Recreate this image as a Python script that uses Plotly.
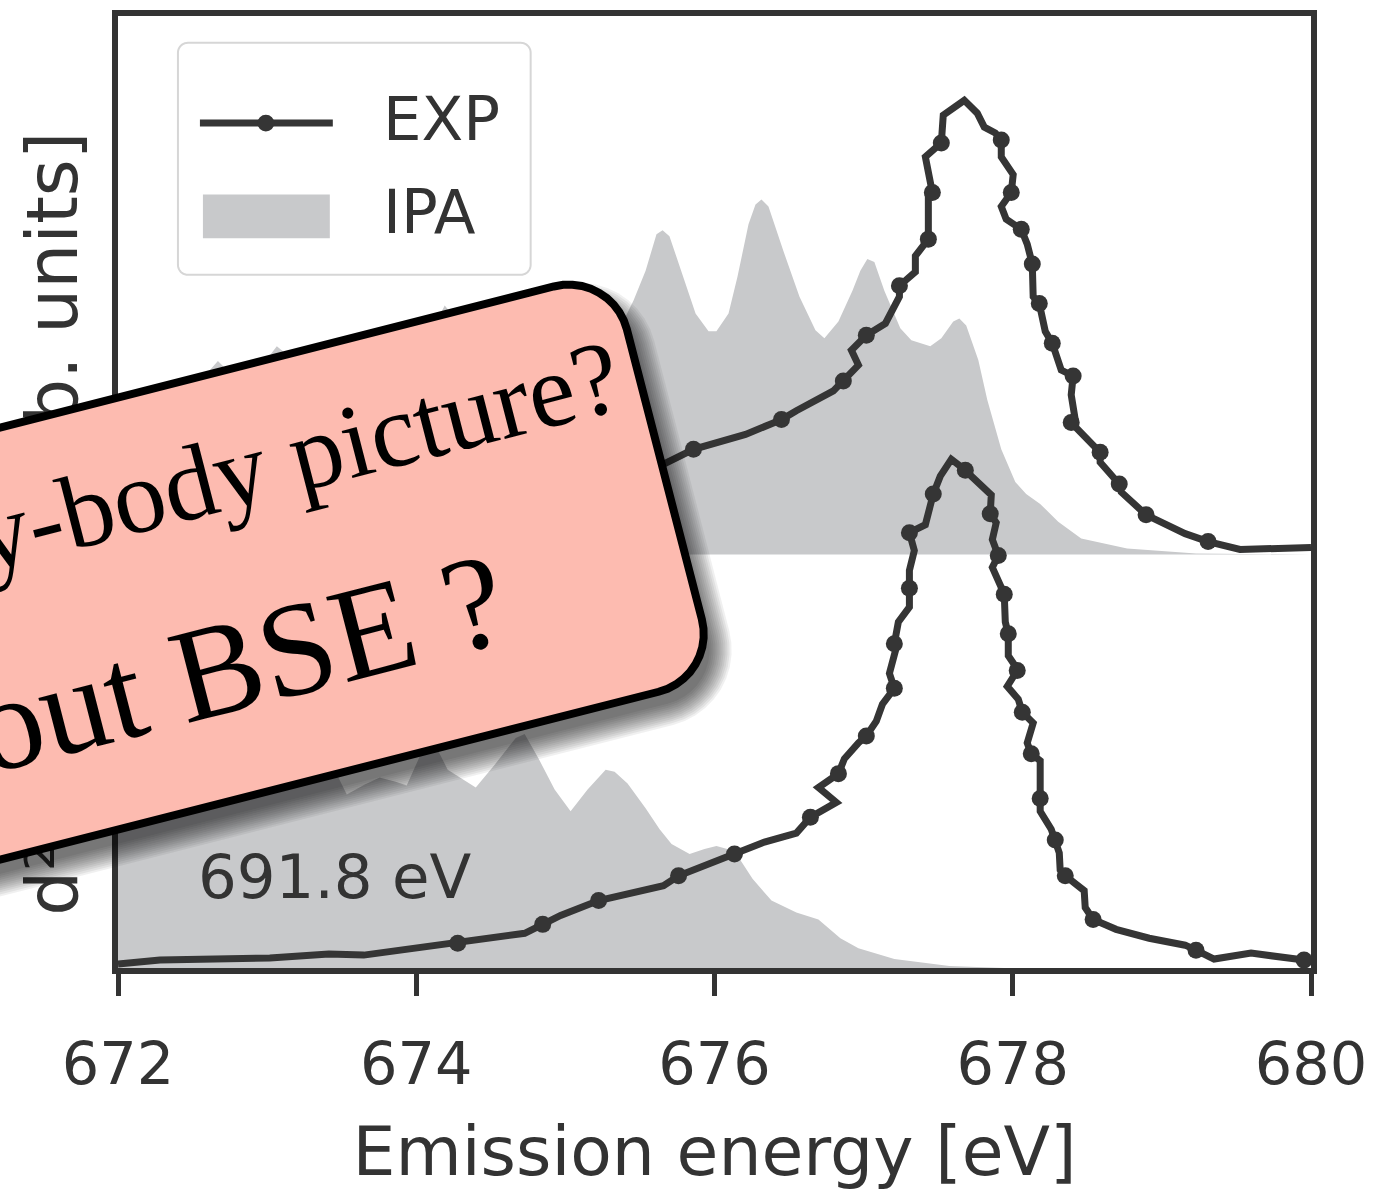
import math
import plotly.graph_objects as go

# ---------------------------------------------------------------- data ----
X_TICKS = [672, 674, 676, 678, 680]
X_RANGE = [672.0, 680.0]
Y_RANGE = [0.0, 1.92]

SERIES_NAMES = ["EXP", "IPA"]
EXCITATION_LABEL = "691.8 eV"
X_TITLE = "Emission energy [eV]"
Y_TITLE = "d²σ/dΩ dω [arb. units]"
CALLOUT_LINES = ["Many-body picture?", "without BSE ?"]

# vertical offset of the upper pair of spectra
TOP_OFFSET = 0.834

# upper pair: experiment (relative to TOP_OFFSET)
exp_top_energy = [
    672.000, 672.549, 673.219, 673.889, 674.358, 674.961, 675.363, 675.645,
    675.859, 676.208, 676.449, 676.549, 676.797, 676.864, 676.965, 676.918,
    677.018, 677.146, 677.240, 677.240, 677.347, 677.347, 677.434, 677.434,
    677.461, 677.414, 677.487, 677.521, 677.534, 677.675, 677.762, 677.809,
    677.883, 677.923, 677.923, 678.003, 677.990, 677.923, 677.956, 678.057,
    678.097, 678.131, 678.137, 678.178, 678.218, 678.265, 678.325, 678.405,
    678.392, 678.419, 678.392, 678.479, 678.586, 678.586, 678.714, 678.727,
    678.894, 679.156, 679.310, 679.524, 680.000,
]
exp_top_intensity = [
    0.026, 0.030, 0.046, 0.074, 0.100, 0.132, 0.160, 0.180,
    0.212, 0.242, 0.272, 0.290, 0.330, 0.350, 0.382, 0.412,
    0.442, 0.466, 0.520, 0.542, 0.570, 0.602, 0.636, 0.726,
    0.730, 0.802, 0.822, 0.830, 0.886, 0.916, 0.890, 0.862,
    0.850, 0.836, 0.802, 0.766, 0.730, 0.702, 0.676, 0.656,
    0.626, 0.586, 0.520, 0.506, 0.450, 0.426, 0.372, 0.360,
    0.322, 0.272, 0.266, 0.240, 0.206, 0.186, 0.142, 0.126,
    0.080, 0.042, 0.026, 0.010, 0.014,
]
exp_top_marked = [1, 3, 5, 8, 10, 13, 16, 19, 22, 24, 27, 33, 36, 39, 41,
                  43, 45, 47, 50, 52, 54, 56, 58]

# upper pair: independent-particle calculation (relative to TOP_OFFSET)
ipa_top_energy = [
    672.000, 672.214, 672.482, 672.670, 672.851, 673.065, 673.286, 673.487,
    673.755, 673.956, 674.191, 674.425, 674.693, 674.961, 675.229, 675.397,
    675.457, 675.538, 675.611, 675.652, 675.698, 675.786, 675.873, 675.960,
    676.013, 676.094, 676.154, 676.228, 676.275, 676.315, 676.362, 676.462,
    676.570, 676.677, 676.737, 676.831, 676.925, 676.978, 677.025, 677.072,
    677.139, 677.246, 677.320, 677.447, 677.521, 677.601, 677.642, 677.688,
    677.769, 677.829, 677.923, 678.017, 678.090, 678.184, 678.305, 678.459,
    678.767, 679.229, 680.000,
]
ipa_top_intensity = [
    0.166, 0.226, 0.326, 0.390, 0.336, 0.420, 0.366, 0.316,
    0.386, 0.366, 0.502, 0.416, 0.446, 0.386, 0.436, 0.476,
    0.512, 0.572, 0.646, 0.654, 0.642, 0.562, 0.486, 0.450,
    0.450, 0.486, 0.560, 0.666, 0.706, 0.716, 0.702, 0.612,
    0.520, 0.452, 0.436, 0.470, 0.532, 0.572, 0.596, 0.590,
    0.532, 0.456, 0.432, 0.420, 0.436, 0.470, 0.476, 0.462,
    0.392, 0.312, 0.212, 0.146, 0.122, 0.102, 0.066, 0.032,
    0.012, 0.002, 0.000,
]

# lower pair: experiment
exp_bottom_energy = [
    672.000, 672.281, 673.018, 673.414, 673.648, 674.278, 674.727, 674.848,
    674.968, 675.223, 675.658, 675.759, 676.134, 676.335, 676.549, 676.643,
    676.817, 676.697, 676.831, 676.871, 676.965, 677.018, 677.085, 677.126,
    677.206, 677.173, 677.219, 677.206, 677.233, 677.307, 677.307, 677.307,
    677.340, 677.307, 677.414, 677.467, 677.514, 677.588, 677.648, 677.682,
    677.722, 677.856, 677.849, 677.889, 677.863, 677.903, 677.863, 677.943,
    677.950, 677.970, 677.970, 678.010, 678.030, 677.963, 678.037, 678.064,
    678.137, 678.097, 678.124, 678.184, 678.184, 678.184, 678.258, 678.285,
    678.312, 678.318, 678.352, 678.479, 678.486, 678.539, 678.693, 678.915,
    679.156, 679.229, 679.350, 679.598, 679.953,
]
exp_bottom_intensity = [
    0.008, 0.016, 0.020, 0.028, 0.026, 0.050, 0.070, 0.088,
    0.106, 0.136, 0.166, 0.186, 0.230, 0.254, 0.272, 0.304,
    0.334, 0.364, 0.392, 0.422, 0.454, 0.468, 0.498, 0.532,
    0.564, 0.594, 0.646, 0.654, 0.698, 0.728, 0.766, 0.802,
    0.842, 0.878, 0.894, 0.956, 0.992, 1.026, 1.012, 1.004,
    0.992, 0.954, 0.916, 0.898, 0.864, 0.832, 0.808, 0.754,
    0.698, 0.674, 0.630, 0.612, 0.600, 0.568, 0.542, 0.516,
    0.494, 0.454, 0.432, 0.418, 0.342, 0.316, 0.280, 0.258,
    0.232, 0.198, 0.186, 0.156, 0.122, 0.098, 0.078, 0.060,
    0.046, 0.036, 0.018, 0.030, 0.016,
]
exp_bottom_marked = [5, 7, 9, 11, 12, 15, 18, 21, 24, 27, 30, 33, 35, 39,
                     42, 45, 47, 49, 52, 55, 58, 60, 63, 66, 69, 73, 76]

# lower pair: independent-particle calculation
ipa_bottom_energy = [
    672.000, 672.214, 672.482, 672.750, 673.018, 673.253, 673.420, 673.534,
    673.655, 673.755, 673.856, 673.936, 674.037, 674.110, 674.211, 674.399,
    674.526, 674.667, 674.727, 674.821, 674.928, 675.035, 675.149, 675.270,
    675.330, 675.417, 675.538, 675.632, 675.712, 675.833, 675.933, 676.013,
    676.134, 676.255, 676.382, 676.549, 676.697, 676.844, 676.965, 677.206,
    677.575, 677.943, 680.000,
]
ipa_bottom_intensity = [
    0.360, 0.460, 0.540, 0.500, 0.560, 0.480, 0.420, 0.350,
    0.370, 0.384, 0.376, 0.368, 0.436, 0.460, 0.400, 0.364,
    0.410, 0.464, 0.472, 0.422, 0.360, 0.316, 0.360, 0.400,
    0.396, 0.372, 0.322, 0.280, 0.250, 0.230, 0.240, 0.246,
    0.236, 0.180, 0.136, 0.112, 0.098, 0.060, 0.040, 0.018,
    0.004, 0.000, 0.000,
]

# ---------------------------------------------------------------- style ---
W, H = 1377, 1191
M_L, M_R, M_T, M_B = 118, 65, 10, 221
PLOT_W = W - M_L - M_R
PLOT_H = H - M_T - M_B

INK = "#333333"
LINE_COLOR = "#353535"
FILL_COLOR = "#c8c9cb"
CALLOUT_FILL = "#fdbbb0"
SANS = "DejaVu Sans"
SERIF = "Liberation Serif"
MARKER_SIZE = 17


def to_paper(px, py):
    """Pixel position on the page -> paper coordinates."""
    return (px - M_L) / PLOT_W, (H - M_B - py) / PLOT_H


def rounded_rect_path(cx, cy, hw, hh, angle_deg, r, n=10):
    """Closed SVG path (paper units) of a rotated rounded rectangle given in pixels."""
    th = math.radians(angle_deg)
    ux, uy = math.cos(th), -math.sin(th)
    vx, vy = math.sin(th), math.cos(th)
    r = max(0.0, min(r, hw, hh))
    arcs = [
        (hw - r, -hh + r, -90.0),
        (hw - r, hh - r, 0.0),
        (-hw + r, hh - r, 90.0),
        (-hw + r, -hh + r, 180.0),
    ]
    pts = []
    for ax_, ay_, a0 in arcs:
        for k in range(n + 1):
            phi = math.radians(a0 + 90.0 * k / n)
            a = ax_ + r * math.cos(phi)
            b = ay_ + r * math.sin(phi)
            pts.append((cx + a * ux + b * vx, cy + a * uy + b * vy))
    coords = [to_paper(px, py) for px, py in pts]
    return "M " + " L ".join(f"{x:.5f},{y:.5f}" for x, y in coords) + " Z"


fig = go.Figure()

# filled IPA spectra
fig.add_trace(go.Scatter(
    x=ipa_bottom_energy, y=ipa_bottom_intensity, mode="lines",
    line=dict(width=0, color=FILL_COLOR), fill="tozeroy", fillcolor=FILL_COLOR,
    name=SERIES_NAMES[1], showlegend=False, hoverinfo="skip"))
fig.add_trace(go.Scatter(
    x=X_RANGE, y=[TOP_OFFSET, TOP_OFFSET], mode="lines",
    line=dict(width=0, color=FILL_COLOR), showlegend=False, hoverinfo="skip"))
fig.add_trace(go.Scatter(
    x=ipa_top_energy, y=[TOP_OFFSET + v for v in ipa_top_intensity], mode="lines",
    line=dict(width=0, color=FILL_COLOR), fill="tonexty", fillcolor=FILL_COLOR,
    name=SERIES_NAMES[1], showlegend=False, hoverinfo="skip"))

# experimental spectra: line plus markers on a subset of samples
for energy, inten, marked, shift in [
    (exp_top_energy, exp_top_intensity, exp_top_marked, TOP_OFFSET),
    (exp_bottom_energy, exp_bottom_intensity, exp_bottom_marked, 0.0),
]:
    ys = [shift + v for v in inten]
    fig.add_trace(go.Scatter(
        x=energy, y=ys, mode="lines", name=SERIES_NAMES[0],
        line=dict(color=LINE_COLOR, width=7), showlegend=False))
    fig.add_trace(go.Scatter(
        x=[energy[i] for i in marked], y=[ys[i] for i in marked],
        mode="markers", name=SERIES_NAMES[0],
        marker=dict(color=LINE_COLOR, size=MARKER_SIZE, line=dict(width=0)),
        showlegend=False))

shapes = []

# y-axis title (kept in the shape layer so the callout can sit on top of it)
yt_x, yt_y = to_paper(47, 522)
shapes.append(dict(
    type="line", xref="paper", yref="paper", x0=yt_x, x1=yt_x,
    y0=yt_y - 0.3, y1=yt_y + 0.3, layer="above",
    line=dict(color="rgba(0,0,0,0)", width=0),
    label=dict(text=Y_TITLE, textangle=-90, textposition="middle",
               xanchor="center", yanchor="middle", padding=0,
               font=dict(family=SANS, size=71, color=INK))))

# legend frame and symbols
shapes.append(dict(type="path", xref="paper", yref="paper", layer="above",
                   path=rounded_rect_path(354.5, 154, 176.5, 117, 0, 10),
                   fillcolor="rgba(255,255,255,0.85)",
                   line=dict(color="#d6d6d6", width=2)))
lx0, ly = to_paper(200, 118)
lx1, _ = to_paper(333, 118)
shapes.append(dict(type="line", xref="paper", yref="paper", layer="above",
                   x0=lx0, x1=lx1, y0=ly, y1=ly,
                   line=dict(color=LINE_COLOR, width=7)))
half = MARKER_SIZE / 2
cx0, cy0 = to_paper(266 - half, 118 + half)
cx1, cy1 = to_paper(266 + half, 118 - half)
shapes.append(dict(type="circle", xref="paper", yref="paper", layer="above",
                   x0=cx0, x1=cx1, y0=cy0, y1=cy1,
                   fillcolor=LINE_COLOR, line=dict(width=0)))
rx0, ry0 = to_paper(203, 234)
rx1, ry1 = to_paper(330, 190)
shapes.append(dict(type="rect", xref="paper", yref="paper", layer="above",
                   x0=rx0, x1=rx1, y0=ry0, y1=ry1,
                   fillcolor=FILL_COLOR, line=dict(width=0)))

# callout box with a soft drop shadow
BOX_C = (180.5, 596.5)
BOX_HW, BOX_HH, BOX_ANGLE, BOX_R = 500, 211, 14.4, 60
SHADOW_DX, SHADOW_DY = 10, 16
for e in range(-4, 20, 2):
    shapes.append(dict(
        type="path", xref="paper", yref="paper", layer="above",
        path=rounded_rect_path(BOX_C[0] + SHADOW_DX, BOX_C[1] + SHADOW_DY,
                               BOX_HW + e, BOX_HH + e, BOX_ANGLE, BOX_R + e),
        fillcolor="rgba(0,0,0,0.06)", line=dict(width=0)))
shapes.append(dict(
    type="path", xref="paper", yref="paper", layer="above",
    path=rounded_rect_path(BOX_C[0], BOX_C[1], BOX_HW, BOX_HH, BOX_ANGLE, BOX_R),
    fillcolor=CALLOUT_FILL, line=dict(color="black", width=8)))

annotations = []
for text, (px, py) in zip(SERIES_NAMES, [(381, 113), (381, 207)]):
    ax_, ay_ = to_paper(px, py)
    annotations.append(dict(text=text, xref="paper", yref="paper", x=ax_, y=ay_,
                            xanchor="left", yanchor="middle", showarrow=False,
                            font=dict(family=SANS, size=61, color=INK)))

annotations.append(dict(text=EXCITATION_LABEL, xref="x", yref="y",
                        x=672.52, y=0.184, xanchor="left", yanchor="middle",
                        showarrow=False, font=dict(family=SANS, size=61, color=INK)))

for text, size, (px, py) in zip(CALLOUT_LINES, [105, 134], [(204.0, 477.0), (124.0, 693.0)]):
    ax_, ay_ = to_paper(px, py)
    annotations.append(dict(text=text, xref="paper", yref="paper", x=ax_, y=ay_,
                            xanchor="center", yanchor="middle", showarrow=False,
                            textangle=-BOX_ANGLE,
                            font=dict(family=SERIF, size=size, color="black")))

fig.update_layout(
    width=W, height=H,
    margin=dict(l=M_L, r=M_R, t=M_T, b=M_B, pad=0),
    paper_bgcolor="white", plot_bgcolor="white",
    font=dict(family=SANS, color=INK),
    showlegend=False,
    shapes=shapes, annotations=annotations,
    xaxis=dict(range=X_RANGE, tickvals=X_TICKS, ticktext=[str(t) for t in X_TICKS],
               showgrid=False, zeroline=False, showline=True, mirror=True,
               linecolor=INK, linewidth=6, ticks="outside", ticklen=22,
               tickwidth=5, tickcolor=INK, tickfont=dict(size=59, color=INK),
               ticklabelstandoff=17,
               title=dict(text=X_TITLE, font=dict(size=68, color=INK), standoff=36)),
    yaxis=dict(range=Y_RANGE, showgrid=False, zeroline=False, showline=True,
               mirror=True, linecolor=INK, linewidth=6, ticks="",
               showticklabels=False),
)

fig.write_html("out.html")
